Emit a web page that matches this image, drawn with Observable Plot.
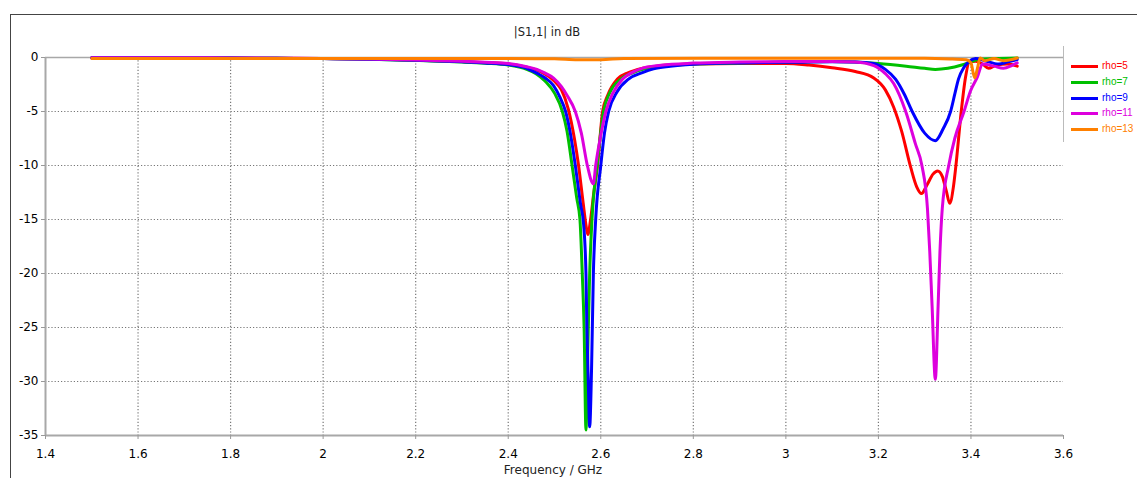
<!DOCTYPE html>
<html><head><meta charset="utf-8">
<script src="https://cdn.jsdelivr.net/npm/d3@7"></script>
<script src="https://cdn.jsdelivr.net/npm/@observablehq/plot@0.6"></script>
<style>
body{margin:0;background:#fff;font-family:"DejaVu Sans",sans-serif;}
#wrap{position:relative;width:1137px;height:478px;overflow:hidden;background:#fff;}
#frame{position:absolute;left:10px;top:14px;width:1140px;height:480px;border-left:1px solid #444;border-top:1px solid #444;pointer-events:none;}
#title{position:absolute;left:447px;width:200px;top:25px;text-align:center;font-size:11.5px;color:#222;}
#xlabel{position:absolute;left:453px;width:200px;top:463px;text-align:center;font-size:12px;color:#222;}
#legend{position:absolute;left:1063px;top:46px;width:80px;height:96px;border-left:1px solid #bbb;}
.item{position:absolute;left:7px;height:14px;font-size:10px;font-family:"Liberation Sans",Arial,sans-serif;}
.item .sw{position:absolute;left:0;top:5px;width:27px;height:3px;}
.item .tx{position:absolute;left:31px;top:0px;white-space:nowrap;}
#chart{position:absolute;left:0;top:0;}
</style>
</head><body>
<div id="wrap">
  <div id="chart"></div>
  <div id="frame"></div>
  <div id="title"></div>
  <div id="xlabel"></div>
  <div id="legend"></div>
</div>
<script>
const titleText = "|S1,1| in dB";
const xLabelText = "Frequency / GHz";
const seriesNames = ["rho=5", "rho=7", "rho=9", "rho=11", "rho=13"];
const seriesColors = ["#ff0000", "#00c000", "#0000ff", "#dd00dd", "#ff8000"];
const xTicks = [1.4, 1.6, 1.8, 2.0, 2.2, 2.4, 2.6, 2.8, 3.0, 3.2, 3.4, 3.6];
const yTicks = [0, -5, -10, -15, -20, -25, -30, -35];

// [frequency GHz, |S11| dB]
const rho5 = [[1.5,-0.03],[1.6,-0.03],[1.7,-0.04],[1.8,-0.05],[1.9,-0.07],[2.0,-0.1],[2.1,-0.15],[2.2,-0.25],[2.3,-0.38],[2.35,-0.47],[2.4,-0.6],[2.44,-0.9],[2.47,-1.3],[2.5,-2.2],[2.515,-3.0],[2.53,-4.8],[2.543,-7.5],[2.552,-10],[2.562,-13.5],[2.568,-15.5],[2.572,-16.4],[2.578,-15],[2.585,-12.5],[2.593,-10],[2.604,-5],[2.615,-3.5],[2.636,-2.0],[2.66,-1.4],[2.69,-1.0],[2.73,-0.75],[2.8,-0.6],[2.9,-0.55],[3.0,-0.55],[3.05,-0.7],[3.1,-0.95],[3.15,-1.3],[3.19,-1.9],[3.215,-3.0],[3.233,-4.6],[3.25,-6.8],[3.27,-10.2],[3.283,-12.0],[3.293,-12.6],[3.305,-11.8],[3.318,-10.8],[3.328,-10.5],[3.338,-11.0],[3.347,-12.4],[3.354,-13.5],[3.362,-12.0],[3.367,-10.2],[3.379,-5.0],[3.388,-1.9],[3.397,-0.4],[3.41,-0.35],[3.425,-0.6],[3.438,-1.0],[3.455,-0.7],[3.48,-0.6],[3.5,-0.8]];
const rho7 = [[1.5,-0.03],[1.6,-0.03],[1.7,-0.04],[1.8,-0.05],[1.9,-0.08],[2.0,-0.1],[2.1,-0.16],[2.2,-0.27],[2.3,-0.42],[2.35,-0.53],[2.4,-0.7],[2.44,-1.1],[2.46,-1.5],[2.48,-2.2],[2.5,-3.3],[2.517,-5],[2.527,-6.8],[2.538,-10],[2.548,-13],[2.555,-15],[2.56,-20],[2.564,-25],[2.568,-34.5],[2.572,-27],[2.576,-20],[2.581,-15],[2.592,-10],[2.606,-5],[2.62,-3.2],[2.643,-2],[2.67,-1.4],[2.695,-1.05],[2.74,-0.78],[2.8,-0.6],[2.9,-0.5],[3.0,-0.42],[3.1,-0.38],[3.2,-0.55],[3.26,-0.8],[3.3,-1.0],[3.323,-1.1],[3.35,-1.0],[3.38,-0.7],[3.4,-0.4],[3.42,-0.15],[3.45,-0.1],[3.5,-0.05]];
const rho9 = [[1.5,-0.03],[1.6,-0.03],[1.7,-0.04],[1.8,-0.05],[1.9,-0.08],[2.0,-0.1],[2.1,-0.16],[2.2,-0.26],[2.3,-0.4],[2.35,-0.5],[2.4,-0.66],[2.44,-1.0],[2.462,-1.45],[2.48,-1.9],[2.498,-2.6],[2.512,-3.7],[2.524,-5],[2.535,-7.2],[2.545,-10],[2.556,-13.5],[2.563,-15.5],[2.568,-20],[2.57,-25],[2.573,-30],[2.576,-34.2],[2.58,-29],[2.584,-20],[2.589,-15],[2.6,-10],[2.608,-7],[2.617,-5],[2.635,-3.2],[2.66,-2.0],[2.69,-1.4],[2.714,-1.05],[2.75,-0.82],[2.8,-0.62],[2.9,-0.5],[3.0,-0.45],[3.1,-0.4],[3.15,-0.42],[3.19,-0.55],[3.215,-1.1],[3.237,-2.0],[3.256,-3.4],[3.273,-5],[3.3,-7.0],[3.323,-7.7],[3.34,-6.6],[3.356,-5],[3.365,-3.4],[3.373,-2],[3.385,-0.9],[3.395,-0.4],[3.41,-0.1],[3.43,-0.3],[3.46,-0.6],[3.48,-0.4],[3.5,-0.2]];
const rho11 = [[1.5,-0.03],[1.6,-0.03],[1.7,-0.03],[1.8,-0.04],[1.9,-0.07],[2.0,-0.09],[2.1,-0.14],[2.2,-0.22],[2.3,-0.34],[2.35,-0.43],[2.4,-0.55],[2.44,-0.85],[2.462,-1.1],[2.48,-1.45],[2.498,-1.9],[2.515,-2.7],[2.527,-3.5],[2.545,-5],[2.558,-7],[2.571,-10],[2.584,-11.7],[2.589,-10],[2.6,-7.2],[2.611,-5],[2.625,-3.4],[2.647,-2],[2.665,-1.45],[2.686,-1.05],[2.73,-0.72],[2.8,-0.52],[2.9,-0.42],[3.0,-0.38],[3.1,-0.37],[3.15,-0.42],[3.19,-0.75],[3.215,-1.5],[3.233,-2.4],[3.259,-5],[3.28,-8],[3.294,-10],[3.306,-14],[3.311,-18],[3.316,-23],[3.323,-29.8],[3.329,-23],[3.333,-18],[3.338,-14],[3.352,-10],[3.365,-7.5],[3.385,-5],[3.399,-3.1],[3.414,-1.8],[3.425,-0.6],[3.45,-0.8],[3.47,-1.0],[3.49,-0.7],[3.5,-0.5]];
const rho13 = [[1.5,-0.1],[1.8,-0.1],[2.1,-0.1],[2.4,-0.1],[2.5,-0.12],[2.55,-0.2],[2.6,-0.2],[2.65,-0.1],[2.9,-0.06],[3.2,-0.06],[3.3,-0.08],[3.36,-0.15],[3.39,-0.2],[3.4,-0.5],[3.408,-1.9],[3.414,-1.0],[3.42,-0.05],[3.43,-0.3],[3.45,-0.1],[3.47,-0.3],[3.5,-0.05]];

const seriesData = [rho5, rho7, rho9, rho11, rho13];
const table = seriesData.flatMap((s, i) => s.map(([f, v]) => ({series: seriesNames[i], f, v})));

const gridX = xTicks.slice(1, -1);
const gridY = yTicks.slice(1, -1);
const fmt = d => String(+d.toFixed(1));

const plot = Plot.plot({
  width: 1137,
  height: 478,
  marginLeft: 45,
  marginRight: 74,
  marginTop: 57,
  marginBottom: 43,
  style: {fontFamily: "DejaVu Sans, sans-serif", fontSize: "12px", color: "#000", background: "transparent"},
  x: {domain: [1.4, 3.6]},
  y: {domain: [-35, 0]},
  color: {domain: seriesNames, range: seriesColors},
  marks: [
    Plot.ruleX(gridX, {stroke: "#777", strokeWidth: 1.2, strokeDasharray: "1.2,2"}),
    Plot.ruleY(gridY, {stroke: "#777", strokeWidth: 1.2, strokeDasharray: "1.2,2"}),
    Plot.ruleY([0], {stroke: "#a8a8a8", strokeWidth: 1.5}),
    Plot.ruleY([-35], {stroke: "#a8a8a8", strokeWidth: 2}),
    Plot.ruleX([1.4], {stroke: "#a8a8a8", strokeWidth: 2}),
    Plot.axisX({ticks: xTicks, tickFormat: fmt, tickSize: 4, tickPadding: 10, stroke: "#999", fill: "#000", label: null}),
    Plot.axisY({ticks: yTicks, tickFormat: d => String(d), tickSize: 4, tickPadding: 3, stroke: "#999", fill: "#000", label: null}),
    Plot.line(table, {x: "f", y: "v", z: "series", stroke: "series", strokeWidth: 3, curve: "monotone-x", strokeLinejoin: "round"})
  ]
});
document.getElementById("chart").appendChild(plot);
document.getElementById("title").textContent = titleText;
document.getElementById("xlabel").textContent = xLabelText;
const legend = document.getElementById("legend");
seriesNames.forEach((n, i) => {
  const it = document.createElement("div");
  it.className = "item";
  it.style.top = (14 + i * 15.8) + "px";
  it.innerHTML = `<div class="sw" style="background:${seriesColors[i]}"></div><div class="tx" style="color:${seriesColors[i]}">${n}</div>`;
  legend.appendChild(it);
});
</script>
</body></html>
